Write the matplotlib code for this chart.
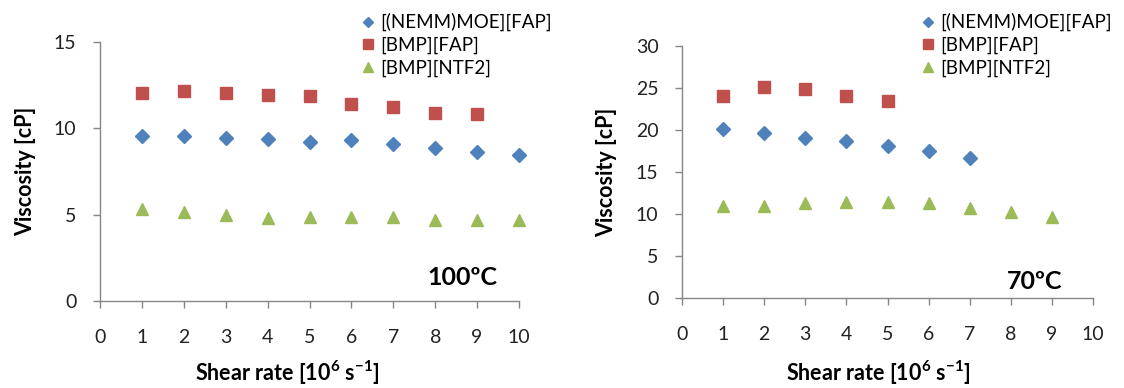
import matplotlib
matplotlib.use("Agg")
import matplotlib.pyplot as plt

# Datos
shear = [1, 2, 3, 4, 5, 6, 7, 8, 9, 10]

# 100 ºC
nemm_100 = [9.54, 9.54, 9.46, 9.38, 9.22, 9.32, 9.09, 8.86, 8.65, 8.47]
bmp_fap_100 = [12.06, 12.16, 12.06, 11.93, 11.85, 11.4, 11.25, 10.89, 10.81]
bmp_ntf2_100 = [5.35, 5.15, 5.0, 4.8, 4.85, 4.85, 4.85, 4.7, 4.7, 4.7]

# 70 ºC
nemm_70 = [20.15, 19.6, 19.1, 18.65, 18.05, 17.45, 16.7]
bmp_fap_70 = [24.1, 25.15, 24.85, 24.1, 23.5]
bmp_ntf2_70 = [10.98, 11.0, 11.3, 11.45, 11.45, 11.26, 10.67, 10.2, 9.7]

series_names = ["[(NEMM)MOE][FAP]", "[BMP][FAP]", "[BMP][NTF2]"]
colors = ["#4F81BD", "#C0504D", "#9BBB59"]
markers = ["D", "s", "^"]
msizes = [7, 9.2, 9.2]

plt.rcParams["font.family"] = ["Lato", "DejaVu Sans"]
plt.rcParams["mathtext.fontset"] = "custom"
plt.rcParams["mathtext.rm"] = "Lato"
plt.rcParams["mathtext.bf"] = "Lato:bold"

fig = plt.figure(figsize=(11.24, 3.88), dpi=100)
W, H = 1124, 388

ax1 = fig.add_axes([100 / W, (H - 301) / H, 419 / W, 259 / H])
ax2 = fig.add_axes([682 / W, (H - 298) / H, 411 / W, 252 / H])

# (eje, series, ymax, temperatura, x leyenda, pos. texto temp., pos. etiqueta eje x en px)
paneles = [
    (ax1, [nemm_100, bmp_fap_100, bmp_ntf2_100], 15, "100ºC", 362, (0.948, 0.089), (0.446, 58)),
    (ax2, [nemm_70, bmp_fap_70, bmp_ntf2_70], 30, "70ºC", 922, (0.925, 0.067), (0.477, 61)),
]

for ax, datos, ymax, temp, legx, tpos, xlab in paneles:
    for vals, name, c, m, ms in zip(datos, series_names, colors, markers, msizes):
        ax.plot(shear[:len(vals)], vals, linestyle="none", marker=m, color=c,
                markersize=ms, label=name, clip_on=False)
    ax.set_xlim(0, 10)
    ax.set_ylim(0, ymax)
    ax.set_xticks(range(0, 11))
    ax.set_yticks(range(0, ymax + 1, 5))
    for s in ["top", "right"]:
        ax.spines[s].set_visible(False)
    for s in ["left", "bottom"]:
        ax.spines[s].set_color("#868686")
        ax.spines[s].set_linewidth(1.0)
    ax.tick_params(axis="both", direction="out", length=5, width=1.0,
                   color="#868686", labelsize=14, labelcolor="#222222")
    ax.tick_params(axis="x", pad=15)
    ax.tick_params(axis="y", pad=12)
    ax.set_ylabel("Viscosity [cP]", fontsize=15.5, fontweight="bold", labelpad=13)
    ax.set_xlabel(r"Shear rate [10$^{\mathbf{6}}$ s$^{\mathbf{-1}}$]",
                  fontsize=15.5, fontweight="bold")
    ax.xaxis.set_label_coords(xlab[0], -xlab[1] / ax.bbox.height)
    ax.text(tpos[0], tpos[1], temp, transform=ax.transAxes, ha="right", va="center",
            fontsize=18, fontweight="bold")
    ax.legend(loc="upper left", bbox_to_anchor=(legx / W, 1 - 13 / H),
              bbox_transform=fig.transFigure, frameon=False, fontsize=13.5,
              handlelength=0.6, handletextpad=0.4, labelspacing=0.3,
              markerscale=0.8, borderaxespad=0, borderpad=0)

fig.savefig("out.png", dpi=100)
